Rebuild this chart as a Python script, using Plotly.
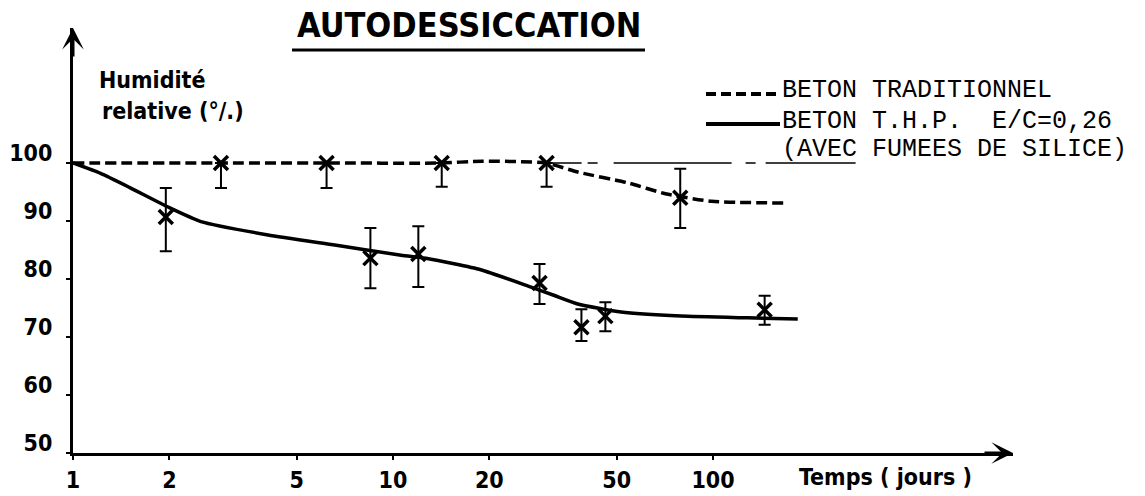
import plotly.graph_objects as go

# ---------------- data ----------------
x_ticks = [1, 2, 5, 10, 20, 50, 100]
x_ticktext = ["1", "2", "5", "10", "20", "50", "100"]
y_ticks = [50, 60, 70, 80, 90, 100]
y_ticktext = ["50", "60", "70", "80", "90", "100"]

# BETON TRADITIONNEL - curve
trad_curve_x = [1, 3, 6.2, 14, 19, 30, 38, 54, 71, 99, 168]
trad_curve_y = [100, 100, 100, 100, 100.3, 100, 98.4, 96.6, 94.7, 93.4, 93.1]
# BETON TRADITIONNEL - measured points
trad_pts_x = [2.9, 6.2, 14.2, 30.2, 79]
trad_pts_y = [100, 100, 100, 100, 94.0]
trad_err_plus = [0, 0, 0, 0, 5.0]
trad_err_minus = [4.3, 4.3, 4.1, 4.1, 5.2]

# BETON T.H.P. - curve
thp_curve_x = [1, 1.22, 1.5, 2.0, 2.51, 4.07, 6.5, 10.6, 12.9, 18.8, 27, 31.8, 37.8, 51.6, 79.4, 128, 184]
thp_curve_y = [100, 98.2, 95.8, 92.3, 89.9, 87.6, 85.9, 84.1, 83.5, 81.6, 78.6, 77.2, 75.7, 74.3, 73.6, 73.3, 73.1]
# BETON T.H.P. - measured points
thp_pts_x = [1.95, 8.5, 12.0, 28.7, 38.8, 46.1, 145]
thp_pts_y = [90.7, 83.6, 84.3, 79.3, 71.7, 73.6, 74.7]
thp_err_plus = [5.0, 5.2, 4.8, 3.3, 3.1, 2.4, 2.4]
thp_err_minus = [5.9, 5.2, 5.7, 3.6, 2.4, 2.6, 2.6]

# 100 % reference line
ref_x = [30.2, 280]
ref_y = [100, 100]

# ---------------- layout constants ----------------
# the page body has an 8px default margin, so the figure is 8px smaller
OFF = 8
W, H = 1145 - OFF, 496 - OFF
L, R, T, B = 73 - OFF, 132, 28 - OFF, 43
PW, PH = W - L - R, H - T - B
PLOT_LEFT_PAGE, PLOT_BOTTOM_PAGE = L + OFF, T + OFF + PH


def px(xp):
    return (xp - PLOT_LEFT_PAGE) / PW


def py(yp):
    return (PLOT_BOTTOM_PAGE - yp) / PH


fig = go.Figure()

fig.add_trace(go.Scatter(
    x=ref_x, y=ref_y, mode="lines",
    line=dict(color="black", width=1.6, dash="35px,6px,10px,16px,118px,14px,10px,10px,90px"),
    showlegend=False, hoverinfo="skip"))

fig.add_trace(go.Scatter(
    x=trad_curve_x, y=trad_curve_y, mode="lines",
    line=dict(color="black", width=3.5, dash="11px,5px", shape="spline", smoothing=0.6),
    name="BETON TRADITIONNEL", showlegend=False))

fig.add_trace(go.Scatter(
    x=thp_curve_x, y=thp_curve_y, mode="lines",
    line=dict(color="black", width=3.5, shape="spline", smoothing=0.5),
    name="BETON T.H.P.", showlegend=False))

err_style = dict(type="data", symmetric=False, thickness=2, width=6, color="black")

fig.add_trace(go.Scatter(
    x=trad_pts_x, y=trad_pts_y, mode="markers",
    marker=dict(symbol="x-thin", size=14, color="black", line=dict(width=3.5, color="black")),
    error_y=dict(array=trad_err_plus, arrayminus=trad_err_minus, **err_style),
    showlegend=False))

fig.add_trace(go.Scatter(
    x=thp_pts_x, y=thp_pts_y, mode="markers",
    marker=dict(symbol="x-thin", size=14, color="black", line=dict(width=3.5, color="black")),
    error_y=dict(array=thp_err_plus, arrayminus=thp_err_minus, **err_style),
    showlegend=False))

label_font = dict(family="DejaVu Sans Condensed, DejaVu Sans", size=23, color="black", weight="bold")

fig.update_layout(
    width=W, height=H,
    margin=dict(l=L, r=R, t=T, b=B, autoexpand=False),
    paper_bgcolor="white", plot_bgcolor="white", showlegend=False,
    xaxis=dict(type="log", range=[0, PW / 320], tickvals=x_ticks, ticktext=x_ticktext,
               showline=True, linecolor="black", linewidth=3, ticks="outside", ticklen=4,
               tickwidth=2, tickcolor="black", showgrid=False, zeroline=False, automargin=False,
               tickfont=label_font, ticklabelstandoff=0),
    yaxis=dict(range=[50, 50 + PH / 5.8], tickvals=y_ticks, ticktext=y_ticktext,
               showline=True, linecolor="black", linewidth=3, ticks="outside", ticklen=4,
               tickwidth=2, tickcolor="black", showgrid=False, zeroline=False, automargin=False,
               tickfont=label_font, ticklabelstandoff=9, ticklabelshift=-10),
)

mono = dict(family="Liberation Mono, DejaVu Sans Mono, monospace", size=25, color="black")
sans_b = dict(family="DejaVu Sans Condensed, DejaVu Sans", size=23, color="black", weight="bold")

ann = [
    # axis arrowheads
    dict(x=1, y=0, xref="paper", yref="paper", ax=-30, ay=0, axref="pixel", ayref="pixel",
         showarrow=True, arrowhead=3, arrowsize=1.2, arrowwidth=3, arrowcolor="black", text=""),
    dict(x=0, y=1, xref="paper", yref="paper", ax=0, ay=30, axref="pixel", ayref="pixel",
         showarrow=True, arrowhead=3, arrowsize=1.2, arrowwidth=3, arrowcolor="black", text=""),
    # title
    dict(x=px(469), y=py(25), xref="paper", yref="paper", text="AUTODESSICCATION",
         showarrow=False, xanchor="center", yanchor="middle",
         font=dict(family="DejaVu Sans Condensed, DejaVu Sans", size=34, color="black", weight="bold")),
    # y title
    dict(x=px(97), y=py(80), xref="paper", yref="paper", text="Humidité",
         showarrow=False, xanchor="left", yanchor="middle", font=sans_b),
    dict(x=px(100), y=py(111), xref="paper", yref="paper", text="relative (°/.)",
         showarrow=False, xanchor="left", yanchor="middle", font=sans_b),
    # x title
    dict(x=px(797), y=py(477), xref="paper", yref="paper", text="Temps ( jours )",
         showarrow=False, xanchor="left", yanchor="middle", font=sans_b),
    # legend text
    dict(x=px(780), y=py(90), xref="paper", yref="paper", text="BETON TRADITIONNEL",
         showarrow=False, xanchor="left", yanchor="middle", font=mono),
    dict(x=px(780), y=py(121), xref="paper", yref="paper", text="BETON T.H.P.  E/C=0,26",
         showarrow=False, xanchor="left", yanchor="middle", font=mono),
    dict(x=px(780), y=py(149), xref="paper", yref="paper", text="(AVEC FUMEES DE SILICE)",
         showarrow=False, xanchor="left", yanchor="middle", font=mono),
]
fig.update_layout(annotations=ann)

shapes = [
    # title underline
    dict(type="line", xref="paper", yref="paper", x0=px(292), x1=px(645), y0=py(50), y1=py(50),
         line=dict(color="black", width=3)),
    # legend samples
    dict(type="line", xref="paper", yref="paper", x0=px(706), x1=px(780), y0=py(94), y1=py(94),
         line=dict(color="black", width=4, dash="10px,5px")),
    dict(type="line", xref="paper", yref="paper", x0=px(706), x1=px(780), y0=py(124), y1=py(124),
         line=dict(color="black", width=4)),
]
fig.update_layout(shapes=shapes)

fig.write_html("out.html")
